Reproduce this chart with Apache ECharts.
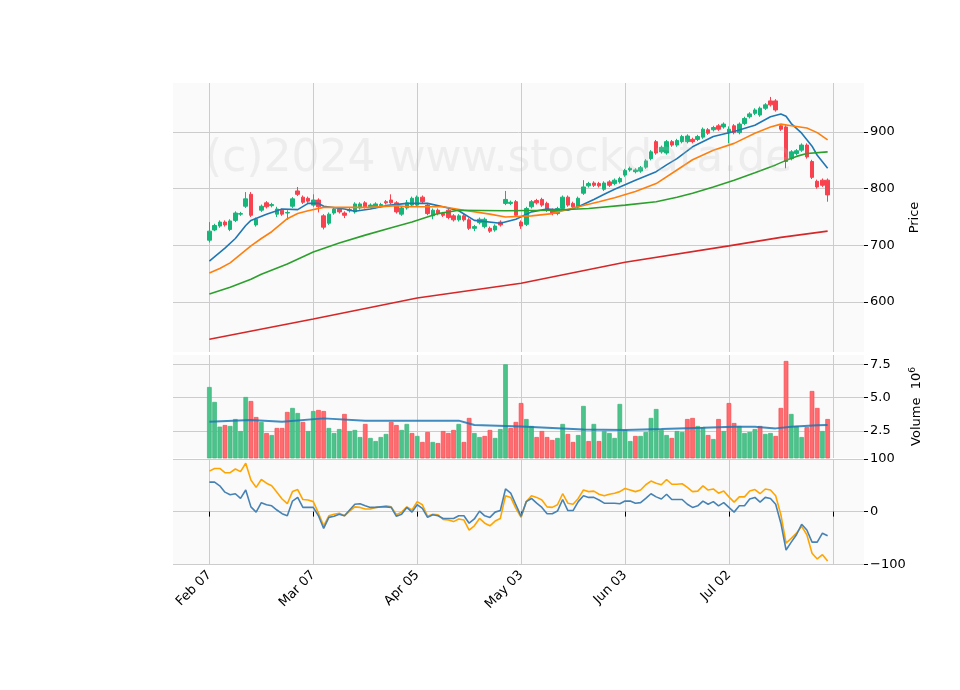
<!DOCTYPE html>
<html><head><meta charset="utf-8">
<script src="https://cdn.jsdelivr.net/npm/echarts@6/dist/echarts.min.js"></script>
<style>html,body{margin:0;padding:0;background:#fff}#c{width:960px;height:690px}</style>
</head><body><div id="c"></div>
<script>
// ---- data ----
const tickLabels = ['Feb 07','Mar 07','Apr 05','May 03','Jun 03','Jul 02',''];
// [open, close, low, high]
const ohlc = [
[709,725,705,741],[727,735,725,738],[734,741,731,744],[741,736,733,744],[728,743,725,746],
[744,757,741,760],[755,756,752,759],[769,782,766,794],[790,753,750,794],[736,746,733,749],
[762,769,759,772],[775,768,765,778],[770,772,767,775],[755,764,750,768],[762,755,752,765],
[757,758,745,762],[769,782,766,785],[796,790,787,803],[785,776,773,788],[783,778,775,786],
[771,780,768,790],[780,768,758,783],[752,732,728,755],[739,755,736,758],[757,764,754,767],
[764,759,756,767],[757,753,748,760],[761,763,758,766],[759,773,756,776],[766,773,763,776],
[775,768,765,778],[768,771,765,774],[768,773,765,776],[770,772,767,775],[777,775,772,780],
[780,775,772,790],[775,759,756,778],[755,766,752,769],[766,775,763,780],[771,783,768,786],
[771,785,768,788],[785,777,774,788],[771,756,753,774],[752,762,746,765],[762,756,753,765],
[756,753,750,759],[762,749,746,765],[752,745,742,755],[745,752,742,755],[752,745,742,755],
[745,730,727,748],[730,733,725,736],[740,746,737,749],[733,746,730,749],[730,725,722,733],
[727,734,724,737],[741,736,733,744],[774,781,771,796],[774,776,771,779],[777,753,750,780],
[741,734,729,744],[737,765,734,768],[768,777,765,780],[779,775,772,782],[781,771,768,784],
[774,762,759,777],[762,756,753,765],[756,765,753,768],[765,785,762,788],[785,771,768,788],
[774,768,765,777],[768,783,765,786],[792,803,789,815],[805,809,802,812],[810,806,803,813],
[809,805,802,812],[799,810,796,813],[812,806,803,815],[809,815,806,818],[812,818,809,821],
[824,832,821,835],[833,836,830,839],[830,833,827,836],[831,837,828,840],[838,849,835,852],
[853,865,850,868],[883,863,860,886],[865,873,862,876],[863,883,860,886],[883,877,874,886],
[877,885,874,888],[883,892,880,895],[883,893,880,896],[887,883,880,890],[887,892,884,895],
[891,905,888,908],[904,898,895,907],[904,908,901,911],[911,905,902,914],[909,914,906,917],
[899,905,880,910],[911,899,896,914],[899,914,896,917],[915,924,912,927],[927,932,924,935],
[933,939,930,942],[930,942,927,945],[942,948,939,951],[955,948,945,962],[955,939,936,958],
[911,905,902,914],[909,848,836,912],[853,865,850,868],[862,867,859,870],[868,877,865,880],
[877,856,853,880],[848,820,817,851],[813,803,800,816],[815,806,803,818],[815,789,777,818]
];
// moving averages: [dayIndex, value]
const maBlue = [[0,672],[3,695],[5,712],[7,735],[8,744],[11,755],[14,764],[17,763],[19,774],[21,774],[22,769],[26,764],[28,760],[31,764],[34,770],[38,774],[42,774],[45,768],[48,761],[51,744],[56,739],[59,746],[62,759],[65,764],[69,762],[71,768],[74,781],[76,790],[78,799],[80,807],[82,815],[86,830],[88,842],[90,853],[93,874],[97,892],[101,901],[105,912],[108,927],[110,932],[111,928],[112,915],[114,898],[116,875],[117,859],[119,836]];
const maOrange = [[0,651],[2,659],[4,669],[6,684],[8,699],[10,712],[12,724],[15,747],[17,756],[19,761],[22,767],[31,767],[36,770],[38,768],[45,768],[49,762],[54,755],[57,750],[62,752],[66,756],[71,768],[75,777],[78,784],[82,795],[86,809],[90,833],[93,851],[97,868],[101,880],[105,898],[108,909],[110,914],[112,911],[115,907],[117,899],[119,886]];
const maGreen = [[0,614],[4,626],[8,640],[10,649],[15,667],[20,688],[25,704],[30,718],[35,731],[39,741],[44,756],[48,762],[57,761],[66,762],[73,765],[80,771],[86,777],[90,785],[93,792],[97,803],[101,815],[105,828],[109,842],[111,850],[113,857],[115,862],[119,865]];
const maRed = [[0,534],[20,570],[40,607],[60,633],[80,670],[100,699],[110,714],[119,725]];
const volume = [5.80,4.68,2.83,2.95,2.88,3.40,2.50,5.05,4.75,3.55,3.18,2.35,2.20,2.73,2.73,3.93,4.23,3.85,3.18,2.50,4.00,4.08,4.00,2.73,2.35,2.65,3.78,2.50,2.58,2.05,3.03,1.98,1.75,2.05,2.28,3.18,2.95,2.58,3.03,2.35,
2.13,1.68,2.43,1.68,1.60,2.50,2.35,2.58,3.03,1.68,3.48,2.35,2.05,2.13,2.58,1.98,2.65,7.50,2.73,3.18,4.60,3.40,2.88,2.05,2.50,2.05,1.83,1.98,3.03,2.28,1.68,2.20,4.38,1.75,3.03,1.75,2.50,2.35,1.98,4.53,
2.58,1.75,2.13,2.13,2.43,3.48,4.15,2.58,2.20,1.98,2.50,2.43,3.40,3.48,2.88,2.80,2.20,1.90,3.40,2.50,4.60,3.10,2.88,2.35,2.43,2.65,2.88,2.28,2.35,2.13,4.23,7.75,3.78,2.88,2.05,2.80,5.50,4.23,2.50,3.40];
const volUp = [1,1,1,0,1,1,1,1,0,0,1,0,1,0,0,0,1,1,0,1,1,0,0,1,1,1,0,1,1,1,0,1,1,1,1,0,0,1,1,0,
1,0,0,1,0,0,0,0,1,0,0,1,1,0,0,1,1,1,0,0,0,1,1,0,0,0,0,1,1,0,0,1,1,0,1,0,1,1,1,1,
1,1,0,1,1,1,1,1,1,0,1,1,0,0,1,1,0,1,0,1,0,0,1,1,1,1,0,1,1,0,0,0,1,1,1,0,0,0,1,0];
const volMA = [[0,3.2],[8,3.33],[14,3.2],[22,3.45],[30,3.28],[48,3.28],[51,2.95],[60,2.85],[72,2.62],[80,2.58],[87,2.65],[95,2.75],[101,2.83],[105,2.83],[109,2.7],[112,2.83],[117,2.93],[119,2.95]];
const oscOrange = [77,82,82,74,74,81,76,92,60,46,61,54,49,37,24,15,38,42,23,22,19,-3,-27,-8,-5,-3,-8,1,9,8,5,5,8,9,11,9,-6,-1,9,3,
19,13,-9,-5,-6,-15,-16,-19,-14,-16,-35,-27,-13,-22,-27,-18,-13,30,27,6,-11,19,30,27,22,9,8,13,34,16,14,25,41,38,39,33,30,33,35,38,
44,41,38,41,51,58,54,51,61,52,52,53,46,38,39,49,41,43,35,39,28,18,28,28,39,42,34,43,41,30,-6,-60,-51,-41,-28,-44,-79,-90,-82,-94];
const oscBlue = [56,56,49,37,32,34,25,41,9,-1,17,13,11,3,-4,-8,20,27,8,8,8,-8,-32,-11,-9,-5,-8,3,14,15,11,8,8,9,9,8,-9,-5,8,-1,
13,6,-11,-6,-8,-13,-13,-13,-8,-8,-22,-14,1,-8,-11,-1,2,43,35,13,-9,19,25,16,8,-4,-4,1,23,2,2,19,30,27,27,22,16,16,16,15,
20,20,16,17,25,34,28,24,33,23,23,23,14,8,11,20,14,19,11,17,8,-1,11,11,24,27,18,27,25,14,-22,-73,-58,-44,-24,-35,-58,-58,-41,-46];

// ---- build ----
const PAD = 7, NCAT = 134, STEP = 20;
const cats = [];
for (let k = 0; k < NCAT; k++) {
  const d = k - PAD;
  cats.push(d >= 0 && d % STEP === 0 && d / STEP < tickLabels.length ? tickLabels[d / STEP] : '');
}
const isTick = (k) => { const d = k - PAD; return d >= 0 && d % STEP === 0 && d / STEP < tickLabels.length; };
const sh = (arr) => arr.map(p => [p[0] + PAD, p[1]]);
const seq = (arr) => arr.map((v, i) => [i + PAD, v]);
const candleData = ohlc.map((c, i) => [i + PAD, c[0], c[1], c[2], c[3]]);
const UPV = '#4cc38a', DNV = '#ff6b6e';
const volData = volume.map((v, i) => ({
  value: [i + PAD, v],
  itemStyle: { color: volUp[i] ? UPV : DNV, borderColor: volUp[i] ? '#3bb57b' : '#f24d52', borderWidth: 0.7 }
}));
const FONT = 'DejaVu Sans';
const grids = [
  { left: 173, right: 96, top: 83, height: 269 },
  { left: 173, right: 96, top: 355, height: 103 },
  { left: 173, right: 96, top: 459, height: 106 }
].map(g => Object.assign(g, { show: true, backgroundColor: '#fafafa', borderWidth: 0 }));
const xAx = (gi, showLabels) => ({
  type: 'category', gridIndex: gi, data: cats, boundaryGap: false,
  axisLine: { show: false },
  axisTick: { show: showLabels, interval: (k) => isTick(k), length: 5, lineStyle: { color: '#000' } },
  axisLabel: { show: showLabels, interval: (k) => isTick(k), rotate: 45, fontSize: 13, fontFamily: FONT, color: '#000', margin: 8 },
  splitLine: { show: true, interval: (k) => isTick(k), lineStyle: { color: '#cccccc', width: 1 } }
});
const yAx = (gi, min, max, vals, fmt, name) => ({
  type: 'value', gridIndex: gi, position: 'right', min, max, scale: true,
  axisLine: { show: false },
  axisTick: { show: true, customValues: vals, length: 4, lineStyle: { color: '#000' } },
  axisLabel: { customValues: vals, formatter: fmt, fontSize: 13, fontFamily: FONT, color: '#000', margin: 6 },
  splitLine: { show: true, lineStyle: { color: '#cccccc', width: 1 } },
  name: name, nameLocation: 'middle', nameRotate: 90, nameGap: 44,
  nameTextStyle: { fontSize: 13, fontFamily: FONT, color: '#000',
    rich: { sup: { fontSize: 9, fontFamily: FONT, verticalAlign: 'top', padding: [0,0,8,0] }, n: { fontSize: 13, fontFamily: FONT } } }
});
const lineS = (data, color, w, xi, yi, op) => ({
  type: 'line', data, xAxisIndex: xi, yAxisIndex: yi, showSymbol: false, smooth: false,
  lineStyle: { color, width: w, opacity: op || 1 }, silent: true, z: 3
});
const option = {
  animation: false,
  backgroundColor: '#fff',
  grid: grids,
  xAxis: [xAx(0, false), xAx(1, false), xAx(2, true)],
  yAxis: [
    yAx(0, 511.6, 986.6, [600, 700, 800, 900], (v) => String(v), 'Price'),
    yAx(1, 0.48, 8.2, [2.5, 5.0, 7.5], (v) => v.toFixed(1), '{n|Volume  10}{sup|6}'),
    yAx(2, -101.5, 100, [-100, 0, 100], (v) => v < 0 ? '\u2212' + Math.abs(v) : String(v), '')
  ],
  graphic: [{
    type: 'text', left: 205, top: 138, z: 100, silent: true,
    style: { text: '(c)2024 www.stockdata.de', font: '44px "DejaVu Sans"', fill: 'rgba(190,190,190,0.22)' }
  }],
  series: [
    { type: 'candlestick', xAxisIndex: 0, yAxisIndex: 0, data: candleData, barWidth: 4,
      encode: { x: 0, y: [1, 2, 3, 4] },
      itemStyle: { color: '#16b67a', color0: '#f8424f', borderColor: '#16b67a', borderColor0: '#f8424f', borderWidth: 1 }, z: 2 },
    lineS(sh(maBlue), '#1f77b4', 1.6, 0, 0),
    lineS(sh(maOrange), '#ff7f0e', 1.6, 0, 0),
    lineS(sh(maGreen), '#2ca02c', 1.6, 0, 0),
    lineS(sh(maRed), '#d62728', 1.6, 0, 0),
    { type: 'bar', xAxisIndex: 1, yAxisIndex: 1, data: volData, barWidth: 4.6, z: 2 },
    lineS(sh(volMA), '#1f77b4', 2, 1, 1, 0.85),
    lineS(seq(oscOrange), '#ffa500', 1.6, 2, 2),
    lineS(seq(oscBlue), '#4682b4', 1.6, 2, 2)
  ]
};
const chart = echarts.init(document.getElementById('c'), null, { renderer: 'canvas' });
chart.setOption(option);
</script></body></html>
